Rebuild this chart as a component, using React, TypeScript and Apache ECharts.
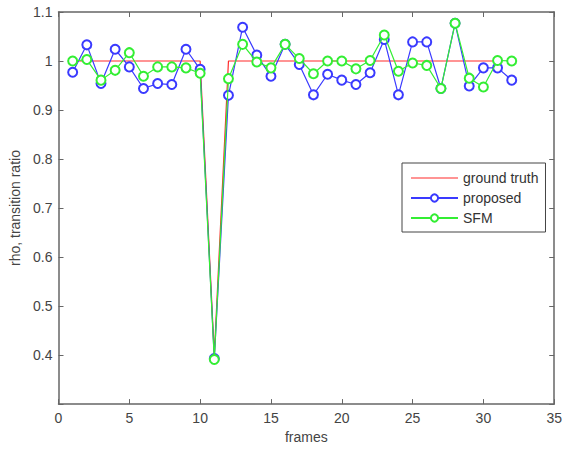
import React, { useEffect, useRef } from "react";
import * as echarts from "echarts";

const frames = [1,2,3,4,5,6,7,8,9,10,11,12,13,14,15,16,17,18,19,20,21,22,23,24,25,26,27,28,29,30,31,32];
const groundTruth = [1,1,1,1,1,1,1,1,1,1,0.4,1,1,1,1,1,1,1,1,1,1,1,1,1,1,1,1,1,1,1,1];
const proposed = [0.977,1.033,0.954,1.024,0.988,0.944,0.954,0.952,1.024,0.983,0.393,0.930,1.069,1.012,0.969,1.034,0.993,0.931,0.973,0.961,0.952,0.976,1.044,0.931,1.039,1.039,0.944,1.077,0.949,0.986,0.986,0.961];
const sfm = [1.0,1.003,0.961,0.981,1.017,0.969,0.988,0.988,0.986,0.975,0.391,0.964,1.034,0.998,0.986,1.034,1.005,0.974,1.0,1.0,0.984,1.001,1.053,0.979,0.996,0.991,0.944,1.077,0.965,0.947,1.001,1.0];
const xTicks = { min: 0, max: 35, interval: 5 };
const yTicks = { min: 0.3, max: 1.1, interval: 0.1 };

const toPairs = (ys: number[]) => ys.map((y, i) => [frames[i], y]);

export default function App() {
  const ref = useRef<HTMLDivElement>(null);
  useEffect(() => {
    if (!ref.current) return;
    const chart = echarts.init(ref.current, null, { renderer: "svg" });
    const axisColor = "#666";
    const textColor = "#444";
    const font = "'Liberation Sans', Arial, sans-serif";
    const yFmt = (v: number) => (v < 0.35 ? "" : String(Number(v.toFixed(1))));
    const red = "#ff2a2a";
    const blue = "#3a3aff";
    const green = "#33ee33";
    const clear = "rgba(0,0,0,0)";
    chart.setOption({
      animation: false,
      backgroundColor: "#fff",
      grid: { left: 58.5, right: 7, top: 12, bottom: 43.5 },
      xAxis: [
        {
          type: "value",
          min: xTicks.min,
          max: xTicks.max,
          interval: xTicks.interval,
          name: "frames",
          nameLocation: "middle",
          nameGap: 23,
          nameTextStyle: { color: textColor, fontSize: 14, fontFamily: font },
          axisLine: { show: true, onZero: false, lineStyle: { color: axisColor, width: 1.5 } },
          axisTick: { show: true, inside: true, length: 5, lineStyle: { color: axisColor } },
          axisLabel: { color: textColor, fontSize: 14, fontFamily: font, margin: 7 },
          splitLine: { show: false },
        },
        {
          type: "value",
          position: "top",
          min: xTicks.min,
          max: xTicks.max,
          interval: xTicks.interval,
          axisLine: { show: true, onZero: false, lineStyle: { color: axisColor, width: 1.5 } },
          axisTick: { show: true, inside: true, length: 5, lineStyle: { color: axisColor } },
          axisLabel: { show: false },
          splitLine: { show: false },
        },
      ],
      yAxis: [
        {
          type: "value",
          min: yTicks.min,
          max: yTicks.max,
          interval: yTicks.interval,
          name: "rho, transition ratio",
          nameLocation: "middle",
          nameGap: 33,
          nameTextStyle: { color: textColor, fontSize: 14, fontFamily: font },
          axisLine: { show: true, onZero: false, lineStyle: { color: axisColor, width: 1.5 } },
          axisTick: { show: true, inside: true, length: 5, lineStyle: { color: axisColor } },
          axisLabel: { color: textColor, fontSize: 14, fontFamily: font, margin: 6, formatter: yFmt },
          splitLine: { show: false },
        },
        {
          type: "value",
          position: "right",
          min: yTicks.min,
          max: yTicks.max,
          interval: yTicks.interval,
          axisLine: { show: true, onZero: false, lineStyle: { color: axisColor, width: 1.5 } },
          axisTick: { show: true, inside: true, length: 5, lineStyle: { color: axisColor } },
          axisLabel: { show: false },
          splitLine: { show: false },
        },
      ],
      legend: {
        orient: "vertical",
        left: 402,
        top: 163,
        padding: [8, 7, 7, 8],
        itemWidth: 47,
        itemHeight: 9,
        itemGap: 6,
        borderColor: "#444",
        borderWidth: 1,
        borderRadius: 0,
        backgroundColor: "#fff",
        itemStyle: { borderWidth: 1 },
        textStyle: { color: "#333", fontSize: 14, fontFamily: font, padding: [0, 0, 0, 0] },
        data: [
          {
            name: "ground truth",
            itemStyle: { color: clear, borderColor: clear },
            lineStyle: { color: red, width: 1.2 },
          },
          { name: "proposed" },
          { name: "SFM" },
        ],
      },
      series: [
        {
          name: "ground truth",
          type: "line",
          data: toPairs(groundTruth),
          showSymbol: false,
          symbol: "circle",
          symbolSize: 0,
          lineStyle: { color: red, width: 1.2 },
          itemStyle: { color: red },
          z: 2,
        },
        {
          name: "proposed",
          type: "line",
          data: toPairs(proposed),
          symbol: "emptyCircle",
          symbolSize: 9,
          lineStyle: { color: blue, width: 1.2 },
          itemStyle: { color: blue, borderColor: blue, borderWidth: 1 },
          z: 3,
        },
        {
          name: "SFM",
          type: "line",
          data: toPairs(sfm),
          symbol: "emptyCircle",
          symbolSize: 9,
          lineStyle: { color: green, width: 1.2 },
          itemStyle: { color: green, borderColor: green, borderWidth: 1 },
          z: 4,
        },
      ],
    });
    return () => chart.dispose();
  }, []);
  return (
    <div
      ref={ref}
      style={{ position: "fixed", left: 0, top: 0, width: 565, height: 449, background: "#fff" }}
    />
  );
}
